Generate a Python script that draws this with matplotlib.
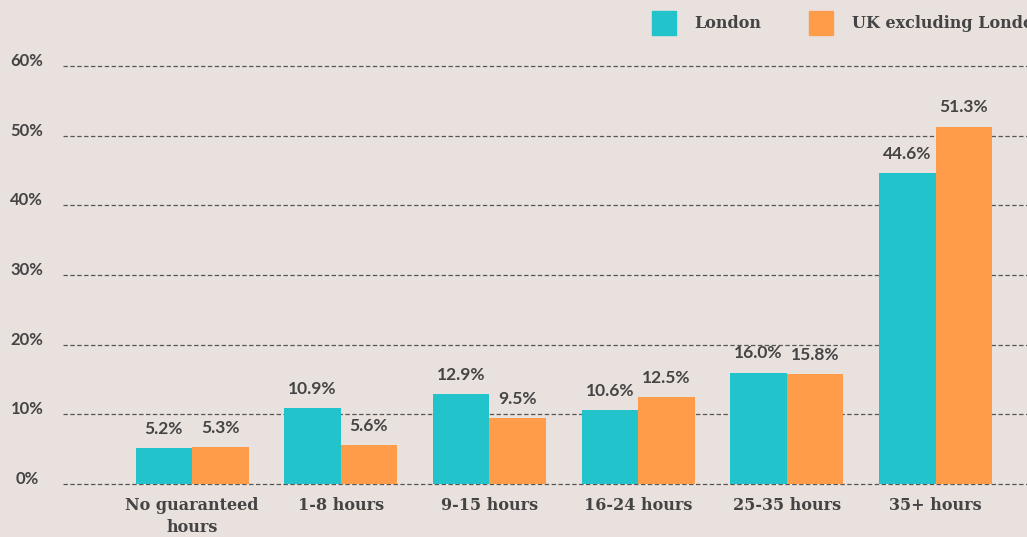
import matplotlib
matplotlib.use("Agg")
import matplotlib.pyplot as plt
import numpy as np

categories = ["No guaranteed\nhours", "1-8 hours", "9-15 hours", "16-24 hours", "25-35 hours", "35+ hours"]
london = [5.2, 10.9, 12.9, 10.6, 16.0, 44.6]
uk_ex_london = [5.3, 5.6, 9.5, 12.5, 15.8, 51.3]
series_names = ["London", "UK excluding London"]
yticks = [0, 10, 20, 30, 40, 50, 60]
ytick_labels = ["0%", "10%", "20%", "30%", "40%", "50%", "60%"]

BG = "#e9e1de"
TEAL = "#22c3cb"
ORANGE = "#ff9c4a"
TXT = "#444444"
SERIF = ["DejaVu Serif"]
SANS = ["Lato", "DejaVu Sans"]

W, H, DPI = 1027, 537, 100
fig = plt.figure(figsize=(W / DPI, H / DPI), dpi=DPI, facecolor=BG)

# axes pixel geometry
left_px, right_px = 63, 1027
ymin, ymax = -1, 65
zero_px, sixty_px = 484, 66
ppu = (zero_px - sixty_px) / 60.0
bottom_px = zero_px + (0 - ymin) * ppu
top_px = zero_px - ymax * ppu
ax = fig.add_axes([left_px / W, (H - bottom_px) / H, (right_px - left_px) / W, (bottom_px - top_px) / H])
ax.set_facecolor(BG)

spacing = 148.7
first_center = 192
xlo = -(first_center - left_px) / spacing
xhi = (right_px - first_center) / spacing
ax.set_xlim(xlo, xhi)
ax.set_ylim(ymin, ymax)

x = np.arange(len(categories))
bw = 56.5 / spacing
b1 = ax.bar(x - bw / 2, london, width=bw, color=TEAL, zorder=3)
b2 = ax.bar(x + bw / 2, uk_ex_london, width=bw, color=ORANGE, zorder=3)

for bars, vals in ((b1, london), (b2, uk_ex_london)):
    for rect, v in zip(bars, vals):
        ax.annotate(f"{v:.1f}%", (rect.get_x() + rect.get_width() / 2, v),
                    xytext=(0, 8), textcoords="offset points", ha="center", va="bottom",
                    fontsize=12.5, fontweight="bold", color=TXT, family=SANS, zorder=4)

for yv in yticks:
    ax.axhline(yv, color="#555555", lw=0.9, ls=(0, (3.5, 2)), zorder=2)

for s in ax.spines.values():
    s.set_visible(False)
ax.tick_params(length=0)
ax.set_xticks(x)
ax.set_xticklabels(categories, fontsize=11.5, fontweight="bold", color=TXT, family=SERIF,
                   linespacing=1.45, va="top")
ax.tick_params(axis="x", pad=4)
ax.set_yticks(yticks)
ax.set_yticklabels(ytick_labels, fontsize=12, fontweight="bold", color=TXT, family=SANS,
                   va="baseline")
for lab in ax.get_yticklabels():
    lab.set_horizontalalignment("center")
ax.tick_params(axis="y", pad=26)

# legend (manual, clipped by the figure edge as in the original)
sq = 24
for px, col, name, tx in ((652, TEAL, series_names[0], 694), (809, ORANGE, series_names[1], 852)):
    fig.patches.append(plt.Rectangle((px / W, (H - 35) / H), sq / W, sq / H,
                                     transform=fig.transFigure, color=col))
    fig.text(tx / W, (H - 23) / H, name, ha="left", va="center", fontsize=11.5,
             fontweight="bold", color=TXT, family=SERIF)

fig.savefig("out.png", dpi=DPI, facecolor=BG)
